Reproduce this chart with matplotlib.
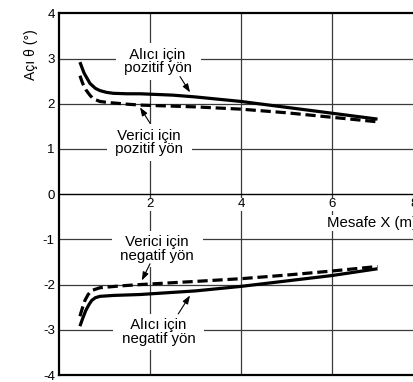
import matplotlib
matplotlib.use("Agg")
import matplotlib.pyplot as plt
import matplotlib.transforms as mtransforms

plt.rcParams['font.family'] = ['Liberation Sans', 'DejaVu Sans']

# Data
x_alici_poz = [0.46, 0.55, 0.68, 0.80, 0.90, 1.05, 1.20, 1.50, 1.78, 2.5, 3.0, 4.0, 5.0, 6.0, 7.0]
y_alici_poz = [2.92, 2.68, 2.45, 2.34, 2.29, 2.25, 2.23, 2.22, 2.22, 2.19, 2.15, 2.05, 1.92, 1.79, 1.66]

x_verici_poz = [0.46, 0.52, 0.59, 0.67, 0.75, 0.90, 1.05, 1.50, 1.78, 3.0, 4.0, 5.0, 6.0, 7.0]
y_verici_poz = [2.62, 2.45, 2.31, 2.20, 2.11, 2.05, 2.03, 1.99, 1.97, 1.93, 1.88, 1.80, 1.70, 1.60]

x_alici_neg = [0.46, 0.52, 0.59, 0.66, 0.72, 0.80, 0.90, 1.20, 1.78, 3.0, 4.0, 5.0, 6.0, 7.0]
y_alici_neg = [-2.92, -2.75, -2.57, -2.44, -2.35, -2.29, -2.26, -2.24, -2.22, -2.14, -2.04, -1.92, -1.80, -1.65]

x_verici_neg = [0.46, 0.52, 0.57, 0.64, 0.72, 0.90, 1.34, 1.78, 3.0, 4.0, 5.0, 6.0, 7.0]
y_verici_neg = [-2.70, -2.50, -2.35, -2.22, -2.13, -2.07, -2.03, -2.00, -1.93, -1.87, -1.79, -1.70, -1.60]

x_ticks = [2, 4, 6, 8]
x_ticklabels = ['2', '4', '6', '8']
y_ticks = [-4, -3, -2, -1, 0, 1, 2, 3, 4]
y_ticklabels = ['-4', '-3', '-2', '-1', '0', '1', '2', '3', '4']

xlabel = 'Mesafe X (m)'
ylabel = 'Açı θ (°)'
lbl_alici_poz = 'Alıcı için\npozitif yön'
lbl_verici_poz = 'Verici için\npozitif yön'
lbl_verici_neg = 'Verici için\nnegatif yön'
lbl_alici_neg = 'Alıcı için\nnegatif yön'

fig = plt.figure(figsize=(4.14, 3.82), dpi=100)
ax = fig.add_axes([59/414, 7/382, 364/414, 361.7/382])
ax.set_xlim(0, 8)
ax.set_ylim(-4, 4)

grid_c = '#3a3a3a'
for yv in [-3, -2, -1, 1, 2, 3]:
    ax.axhline(yv, color=grid_c, lw=0.9, zorder=1)
for xv in [2, 4, 6]:
    ax.axvline(xv, color=grid_c, lw=0.9, zorder=1)

# frame
ax.spines['bottom'].set_position(('data', 0))
ax.spines['bottom'].set_linewidth(1.0)
ax.spines['left'].set_linewidth(1.6)
ax.spines['top'].set_linewidth(1.6)
ax.spines['right'].set_linewidth(1.6)
ax.axhline(-4, color='black', lw=1.6, zorder=5, clip_on=False)

tfs = 9.5
fs = 10.8
ax.set_xticks(x_ticks)
ax.set_xticklabels(x_ticklabels, fontsize=tfs)
ax.set_yticks(y_ticks)
ax.set_yticklabels(y_ticklabels, fontsize=tfs)
ax.tick_params(axis='both', length=0)
ax.tick_params(axis='x', pad=3)
ax.tick_params(axis='y', pad=3)
for lbl in ax.get_xticklabels():
    lbl.set_bbox(dict(facecolor='white', edgecolor='none', pad=0.5))
    lbl.set_zorder(3)
last = ax.get_xticklabels()[-1]
last.set_transform(last.get_transform() + mtransforms.ScaledTranslation(-9/100, 0, fig.dpi_scale_trans))

lw = 2.3
ax.plot(x_alici_poz, y_alici_poz, color='black', lw=lw, zorder=4, solid_capstyle='butt')
ax.plot(x_verici_poz, y_verici_poz, color='black', lw=lw, zorder=4, dashes=(3.2, 1.5))
ax.plot(x_alici_neg, y_alici_neg, color='black', lw=lw, zorder=4, solid_capstyle='butt')
ax.plot(x_verici_neg, y_verici_neg, color='black', lw=lw, zorder=4, dashes=(3.2, 1.5))

box = dict(boxstyle='square,pad=0.3', facecolor='white', edgecolor='none')
tkw = dict(fontsize=fs, ha='center', va='center', linespacing=0.95, zorder=3, bbox=box)
def padded(s):
    return ' ' + s.replace('\n', ' \n ') + ' '
ax.text(2.18, 2.93, padded(lbl_alici_poz), **tkw)
ax.text(1.98, 1.14, padded(lbl_verici_poz), **tkw)
ax.text(2.16, -1.21, padded(lbl_verici_neg), **tkw)
ax.text(2.19, -3.05, padded(lbl_alici_neg), **tkw)

akw = dict(arrowstyle='-|>,head_length=0.5,head_width=0.18', color='black', lw=0.8, shrinkA=0, shrinkB=0)
ax.annotate('', xy=(2.88, 2.25), xytext=(2.66, 2.60), arrowprops=akw, zorder=6)
ax.annotate('', xy=(1.78, 1.92), xytext=(2.00, 1.57), arrowprops=akw, zorder=6)
ax.annotate('', xy=(1.82, -1.91), xytext=(2.00, -1.54), arrowprops=akw, zorder=6)
ax.annotate('', xy=(2.88, -2.24), xytext=(2.62, -2.65), arrowprops=akw, zorder=6)

ax.text(5.89, -0.64, xlabel, fontsize=fs, ha='left', va='center', zorder=3,
        bbox=dict(facecolor='white', edgecolor='none', pad=0.5))
ax.text(-0.077, 0.885, ylabel, fontsize=10, rotation=90, ha='center', va='center',
        transform=ax.transAxes)

fig.savefig('out.png', dpi=100)
